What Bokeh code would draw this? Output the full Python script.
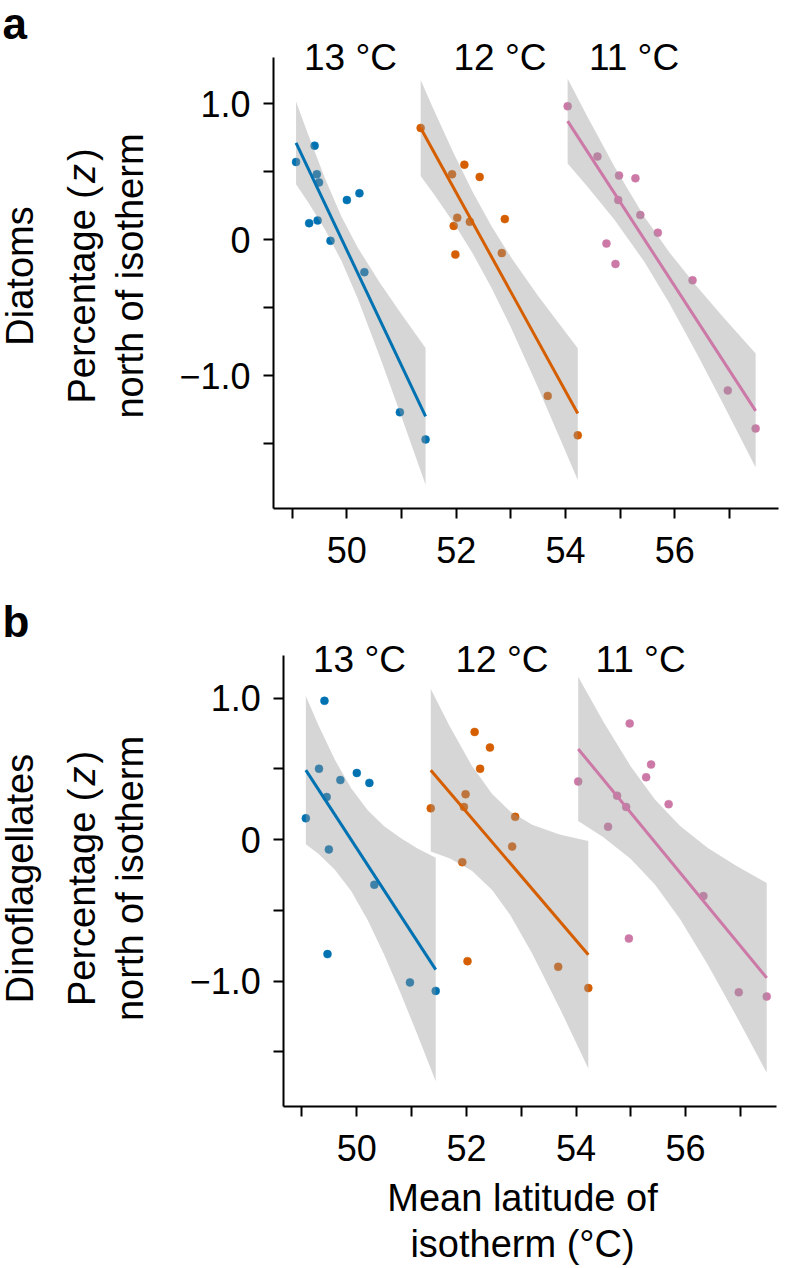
import math
from bokeh.plotting import figure
from bokeh.models import Range1d, FixedTicker, CustomJSTickFormatter, Label, LinearAxis
from bokeh.layouts import column
from bokeh.embed import file_html
from bokeh.resources import INLINE

FONT = "Liberation Sans"

# ---------------- data ----------------
isotherms = ["13 °C", "12 °C", "11 °C"]
colors = ["#0072B2", "#D55E00", "#CC79A7"]

# mean latitude of each isotherm (one value per year), per isotherm
lat_13 = [49.07, 49.31, 49.41, 49.45, 49.465, 49.49, 49.70, 50.00, 50.23, 50.32, 50.97, 51.44]
lat_12 = [51.35, 51.925, 51.955, 51.985, 52.02, 52.15, 52.25, 52.43, 52.835, 52.89, 53.675, 54.225]
lat_11 = [54.04, 54.585, 54.75, 54.915, 54.965, 54.98, 55.28, 55.37, 55.69, 56.325, 56.97, 57.48]

# percentage north of isotherm (z), diatoms
diatom_13 = [0.57, 0.12, 0.69, 0.48, 0.14, 0.42, -0.01, 0.29, 0.34, -0.24, -1.27, -1.47]
diatom_12 = [0.82, 0.48, 0.10, -0.11, 0.16, 0.55, 0.13, 0.46, -0.10, 0.15, -1.15, -1.44]
diatom_11 = [0.98, 0.61, -0.03, -0.18, 0.29, 0.47, 0.45, 0.18, 0.05, -0.30, -1.11, -1.39]

# percentage north of isotherm (z), dinoflagellates
dino_13 = [0.15, 0.50, 0.98, 0.30, -0.81, -0.07, 0.42, 0.47, 0.40, -0.32, -1.01, -1.07]
dino_12 = [0.22, -0.16, 0.23, 0.32, -0.86, 0.76, 0.50, 0.65, -0.05, 0.16, -0.90, -1.05]
dino_11 = [0.41, 0.09, 0.31, 0.23, -0.70, 0.82, 0.44, 0.53, 0.25, -0.40, -1.08, -1.11]

# fitted line values at the first and last latitude of each isotherm
diatom_fit_13 = [0.71, -1.30]
diatom_fit_12 = [0.82, -1.28]
diatom_fit_11 = [0.87, -1.26]
dino_fit_13 = [0.49, -0.92]
dino_fit_12 = [0.49, -0.815]
dino_fit_11 = [0.64, -0.978]

# confidence band
diatom_band_x_13 = [49.07, 49.3, 49.6, 49.9, 50.2, 50.6, 51.0, 51.44]
diatom_band_hi_13 = [1.014, 0.762, 0.449, 0.169, -0.060, -0.316, -0.550, -0.797]
diatom_band_lo_13 = [0.406, 0.268, 0.073, -0.157, -0.436, -0.858, -1.304, -1.803]
diatom_band_x_12 = [51.35, 51.6, 51.95, 52.3, 52.65, 53.0, 53.5, 54.225]
diatom_band_hi_12 = [1.173, 0.945, 0.637, 0.351, 0.096, -0.129, -0.416, -0.799]
diatom_band_lo_12 = [0.467, 0.329, 0.125, -0.101, -0.358, -0.645, -1.090, -1.769]
diatom_band_x_11 = [54.04, 54.4, 54.9, 55.44, 55.9, 56.4, 56.9, 57.48]
diatom_band_hi_11 = [1.182, 0.904, 0.533, 0.170, -0.094, -0.344, -0.577, -0.838]
diatom_band_lo_11 = [0.558, 0.390, 0.143, -0.162, -0.468, -0.836, -1.221, -1.676]

dino_band_x_13 = [49.07, 49.3, 49.6, 49.9, 50.2, 50.5, 50.8, 51.1, 51.44]
dino_band_hi_13 = [1.014, 0.807, 0.563, 0.360, 0.206, 0.094, 0.010, -0.061, -0.129]
dino_band_lo_13 = [-0.034, -0.101, -0.213, -0.366, -0.570, -0.814, -1.086, -1.373, -1.709]
dino_band_x_12 = [51.35, 51.7, 52.1, 52.47, 52.8, 53.2, 53.7, 54.225]
dino_band_hi_12 = [1.064, 0.796, 0.521, 0.321, 0.198, 0.105, 0.036, -0.011]
dino_band_lo_12 = [-0.084, -0.134, -0.221, -0.357, -0.534, -0.805, -1.190, -1.619]
dino_band_x_11 = [54.04, 54.5, 55.0, 55.44, 55.9, 56.4, 56.9, 57.48]
dino_band_hi_11 = [1.150, 0.832, 0.516, 0.282, 0.095, -0.058, -0.181, -0.307]
dino_band_lo_11 = [0.130, 0.016, -0.138, -0.318, -0.563, -0.882, -1.229, -1.649]

x_ticks = [49, 50, 51, 52, 53, 54, 55, 56, 57]
y_ticks = [-1.5, -1.0, -0.5, 0.0, 0.5, 1.0]

# ---------------- drawing ----------------
W = 788
TICK_PX = 36
FACET_PX = 37
TITLE_PX = 38
LETTER_PX = 44
BASE_SHIFT = 0.36   # text anchor correction (em) so glyph baselines land where wanted


def style_axis(ax):
    ax.axis_line_width = 2
    ax.axis_line_color = "black"
    ax.major_tick_line_width = 2
    ax.major_tick_line_color = "black"
    ax.major_tick_out = 10
    ax.major_tick_in = 0
    ax.minor_tick_out = 0
    ax.minor_tick_in = 0
    ax.major_label_text_font = FONT
    ax.major_label_text_font_size = f"{TICK_PX}px"
    ax.major_label_text_color = "black"


def make_panel(height, xr, yr, x_axis_y, y_axis_x, x_bounds, y_bounds,
               lats, ys, fits, bands, page_top, texts):
    # the frame covers the whole canvas; axes sit at fixed data locations
    p = figure(width=W, height=height, x_range=Range1d(*xr), y_range=Range1d(*yr),
               output_backend="svg", toolbar_location=None,
               x_axis_location=None, y_axis_location=None,
               min_border_left=0, min_border_right=0, min_border_top=0, min_border_bottom=0)
    p.outline_line_color = None
    p.grid.visible = False
    p.background_fill_color = "white"
    p.border_fill_color = "white"

    yax = LinearAxis(fixed_location=y_axis_x, bounds=y_bounds,
                     ticker=FixedTicker(ticks=y_ticks, minor_ticks=[]),
                     formatter=CustomJSTickFormatter(
                         code="const t = Math.round(tick*10)/10;"
                              "if (t == 1) return '1.0'; if (t == 0) return '0';"
                              "if (t == -1) return '\u22121.0'; return '';"))
    xax = LinearAxis(fixed_location=x_axis_y, bounds=x_bounds,
                     ticker=FixedTicker(ticks=x_ticks, minor_ticks=[]),
                     formatter=CustomJSTickFormatter(
                         code="const t = Math.round(tick); return (t % 2 == 0) ? t.toString() : '';"))
    style_axis(yax)
    style_axis(xax)
    yax.major_label_standoff = 13
    xax.major_label_standoff = 19
    p.add_layout(yax, "left")
    p.add_layout(xax, "below")

    # points first, then bands (semi-transparent) and fitted lines
    for lat, yv, col in zip(lats, ys, colors):
        p.scatter(lat, yv, size=8, fill_color=col, line_color=col, line_width=0.5)
    for lat, fit, band, col in zip(lats, fits, bands, colors):
        bx, bhi, blo = band
        p.varea(x=bx, y1=blo, y2=bhi, fill_color="#999999", fill_alpha=0.4)
        p.line([lat[0], lat[-1]], fit, line_color=col, line_width=3)

    def sy(py):
        return height - (py - page_top)

    for t in texts:
        fs = t["size"]
        shift = BASE_SHIFT * fs
        if t.get("rot"):
            ax_, ay_ = t["x"] - shift, t["y"]
        else:
            ax_, ay_ = t["x"], t["y"] - shift
        kw = dict(x=ax_, y=sy(ay_), x_units="screen", y_units="screen",
                  text=t["text"], text_font=FONT, text_font_size=f"{fs}px",
                  text_align=t.get("align", "center"), text_baseline="alphabetic",
                  text_color="black", text_font_style=t.get("style", "normal"))
        if t.get("rot"):
            kw["angle"] = math.pi / 2
        p.add_layout(Label(**kw))
    return p


def side_texts(page_letter_base, letter, group_title, centre_y, facet_centres, facet_base):
    out = [dict(x=2, y=page_letter_base, text=letter, size=LETTER_PX, style="bold", align="left")]
    for name, cx in zip(isotherms, facet_centres):
        out.append(dict(x=cx, y=facet_base, text=name, size=FACET_PX))
    out.append(dict(x=33, y=centre_y, text=group_title, size=TITLE_PX, rot=True))
    out.append(dict(x=143, y=centre_y, text="north of isotherm", size=TITLE_PX, rot=True))
    start = centre_y + 127.6
    for piece, off, style in (("Percentage", 0.0, "normal"), ("(", 204.9, "normal"),
                              ("z", 220.6, "italic"), (")", 242.6, "normal")):
        out.append(dict(x=95, y=start - off, text=piece, size=TITLE_PX, rot=True,
                        align="left", style=style))
    return out


# panel a: page rows 0..588 ; 49 deg at x=291.7 (54.65 px/deg), z=0 at y=239 (136 px/unit)
HA = 588
texts_a = side_texts(39, "a", "Diatoms", 275.5, [350, 499.5, 633.5], 70)
pa = make_panel(HA, (43.662, 58.081), (-(HA - 239) / 136, 239 / 136),
                -1.9757, 48.658, (48.658, 57.898), (-1.9757, 1.3404),
                [lat_13, lat_12, lat_11], [diatom_13, diatom_12, diatom_11],
                [diatom_fit_13, diatom_fit_12, diatom_fit_11],
                [(diatom_band_x_13, diatom_band_hi_13, diatom_band_lo_13),
                 (diatom_band_x_12, diatom_band_hi_12, diatom_band_lo_12),
                 (diatom_band_x_11, diatom_band_hi_11, diatom_band_lo_11)],
                0, texts_a)

# panel b: page rows 588..1268 ; 49 deg at x=301.5 (54.8 px/deg), z=0 at y=839 (141.5 px/unit)
HB = 680
TOPB = 588
texts_b = side_texts(637, "b", "Dinoflagellates", 878, [359, 501.5, 640], 672)
texts_b.append(dict(x=522, y=1211.5, text="Mean latitude of", size=TITLE_PX))
texts_b.append(dict(x=522, y=1257, text="isotherm (°C)", size=TITLE_PX))
pb = make_panel(HB, (43.4982, 57.8777), (-(TOPB + HB - 839) / 141.5, (839 - TOPB) / 141.5),
                -1.8848, 48.668, (48.668, 57.659), (-1.8848, 1.3004),
                [lat_13, lat_12, lat_11], [dino_13, dino_12, dino_11],
                [dino_fit_13, dino_fit_12, dino_fit_11],
                [(dino_band_x_13, dino_band_hi_13, dino_band_lo_13),
                 (dino_band_x_12, dino_band_hi_12, dino_band_lo_12),
                 (dino_band_x_11, dino_band_hi_11, dino_band_lo_11)],
                TOPB, texts_b)

layout = column(pa, pb, spacing=0)
open("out.html", "w").write(file_html(layout, INLINE))
